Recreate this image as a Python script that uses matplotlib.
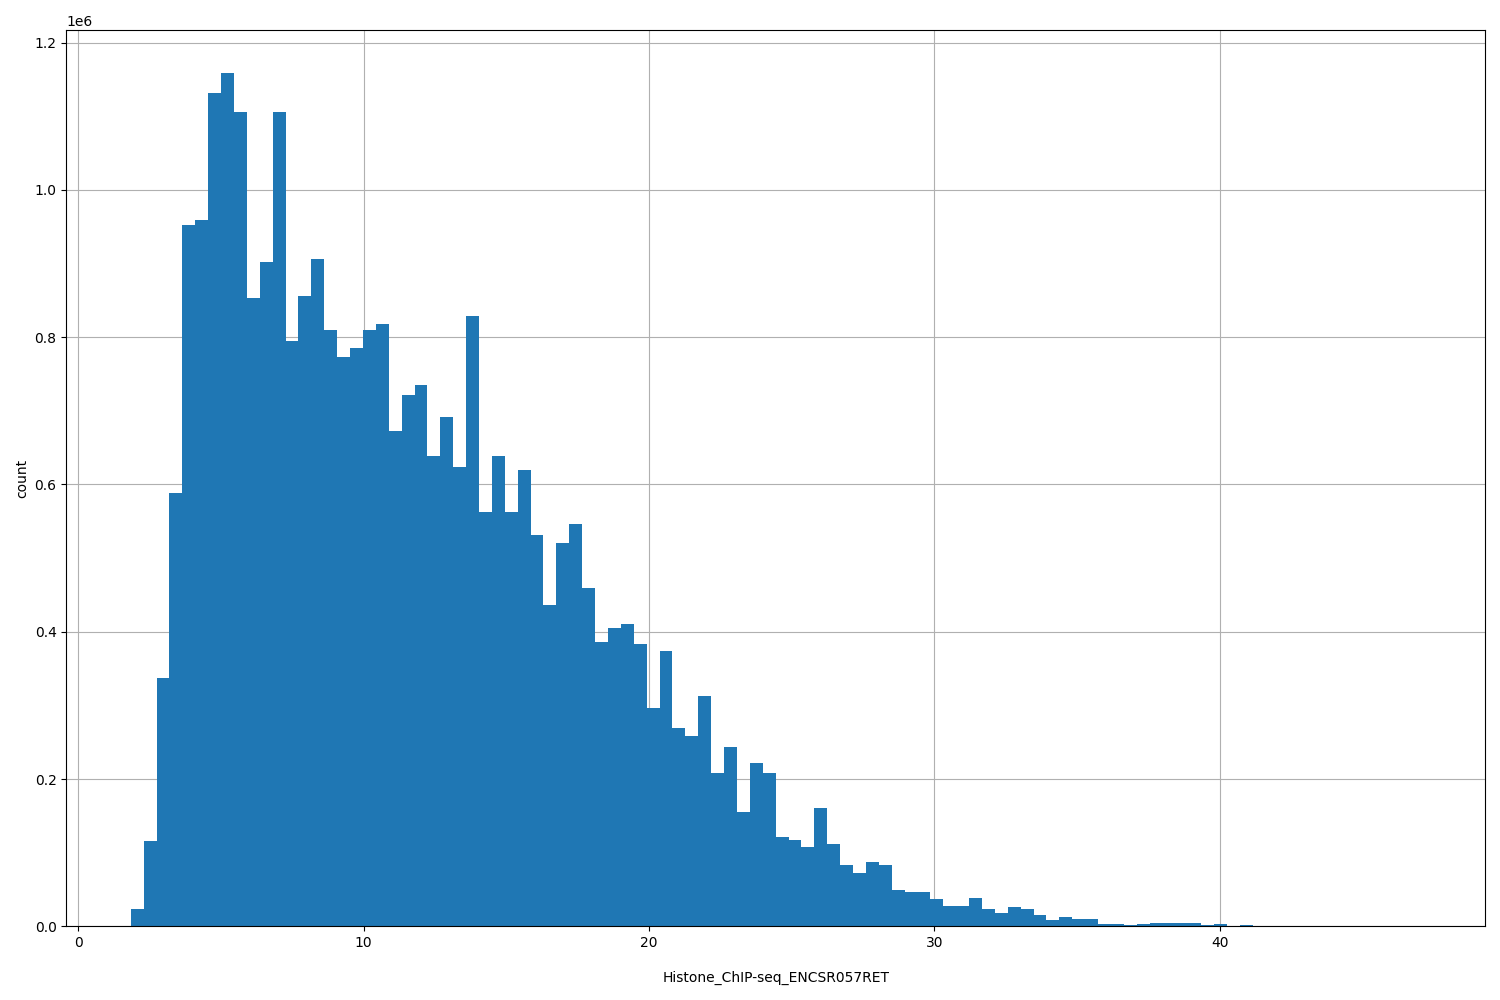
import numpy as np
import matplotlib.pyplot as plt

# histogram range and counts (in millions)
x_min = 1.84
x_max = 47.04
counts = [0.024, 0.116, 0.337, 0.588, 0.952, 0.959, 1.132, 1.159, 1.106, 0.853,
          0.902, 1.106, 0.795, 0.856, 0.906, 0.810, 0.773, 0.785, 0.810, 0.818,
          0.672, 0.721, 0.735, 0.638, 0.691, 0.624, 0.829, 0.563, 0.638, 0.563,
          0.620, 0.532, 0.437, 0.521, 0.547, 0.460, 0.386, 0.405, 0.410, 0.384,
          0.297, 0.374, 0.269, 0.259, 0.313, 0.208, 0.244, 0.155, 0.222, 0.208,
          0.121, 0.117, 0.108, 0.160, 0.112, 0.083, 0.073, 0.088, 0.083, 0.049,
          0.046, 0.047, 0.037, 0.028, 0.028, 0.039, 0.024, 0.018, 0.026, 0.024,
          0.015, 0.008, 0.013, 0.010, 0.010, 0.003, 0.003, 0.002, 0.003, 0.005,
          0.005, 0.005, 0.005, 0.002, 0.003, 0.001, 0.002, 0.0005, 0.0005, 0.001,
          0.0004, 0.0004, 0.001, 0.0003, 0.0003, 0.0002, 0.0002, 0.0002, 0.0001, 0.0001]

edges = np.linspace(x_min, x_max, len(counts) + 1)
values = np.array(counts) * 1e6

fig, ax = plt.subplots(figsize=(15, 10), dpi=100)
ax.hist(edges[:-1], bins=edges, weights=values, color='#1f77b4')
ax.grid(True)
ax.set_axisbelow(True)
ax.set_xlabel('Histone_ChIP-seq_ENCSR057RET', labelpad=15)
ax.set_ylabel('count')
plt.tight_layout()
plt.savefig('out.png')
